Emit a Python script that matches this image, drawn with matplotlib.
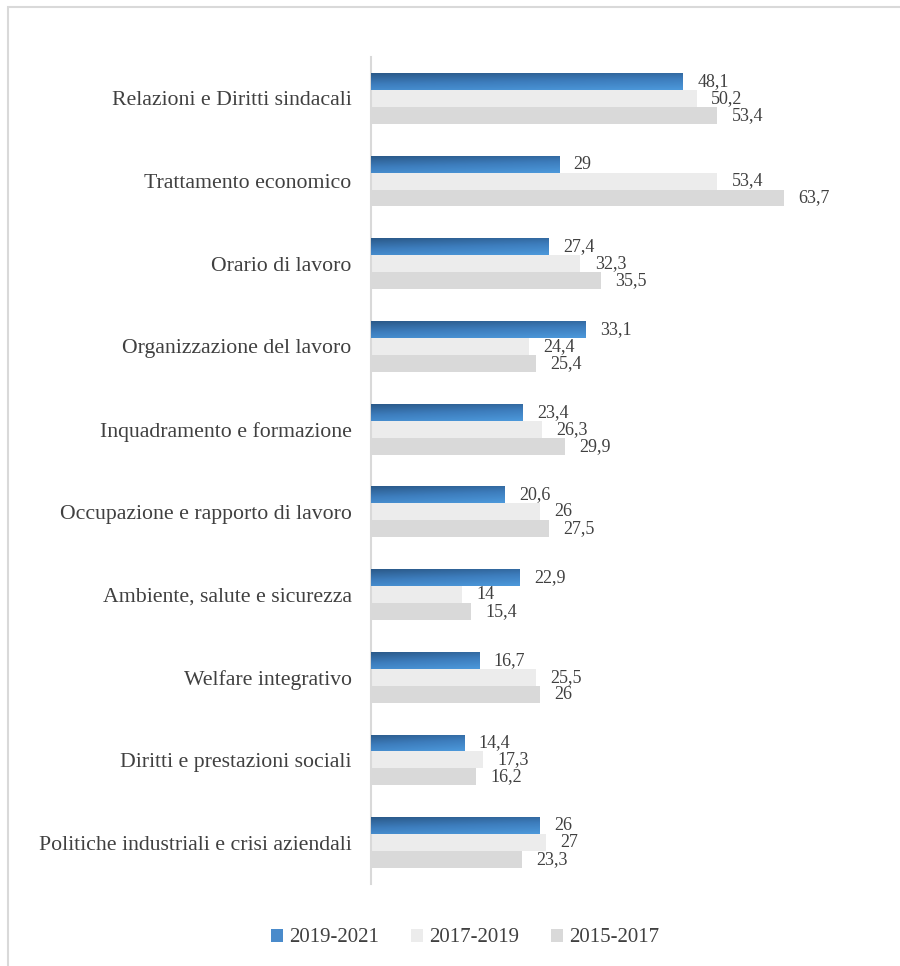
import numpy as np
import matplotlib.pyplot as plt
from matplotlib.patches import Rectangle
from matplotlib.colors import LinearSegmentedColormap

# Materie trattate nella contrattazione (%)
categories = ['Relazioni e Diritti sindacali', 'Trattamento economico', 'Orario di lavoro',
              'Organizzazione del lavoro', 'Inquadramento e formazione',
              'Occupazione e rapporto di lavoro', 'Ambiente, salute e sicurezza',
              'Welfare integrativo', 'Diritti e prestazioni sociali',
              'Politiche industriali e crisi aziendali']
periods = ['2019-2021', '2017-2019', '2015-2017']
v_2019_2021 = [48.1, 29, 27.4, 33.1, 23.4, 20.6, 22.9, 16.7, 14.4, 26]
v_2017_2019 = [50.2, 53.4, 32.3, 24.4, 26.3, 26, 14, 25.5, 17.3, 27]
v_2015_2017 = [53.4, 63.7, 35.5, 25.4, 29.9, 27.5, 15.4, 26, 16.2, 23.3]

plt.rcParams['font.family'] = ['Liberation Serif', 'DejaVu Serif']

fig = plt.figure(figsize=(9, 9.66), dpi=100)
ax = fig.add_axes([371/900, 82/966, 454/900, (884-57)/966])

# bordo grigio chiaro del riquadro
fig.patches.append(Rectangle((8/900, -0.1), 1.2, 1.1 - 7/966, transform=fig.transFigure,
                             fill=False, edgecolor='#d9d9d9', linewidth=1.5))

y = np.arange(len(categories))
h = 0.205
series = [v_2019_2021, v_2017_2019, v_2015_2017]
colors = ['#3f7fbf', '#ececec', '#d9d9d9']
blue_grad = LinearSegmentedColormap.from_list('blu', ['#2b5a8a', '#3d7dbd', '#4c98da'])

for i, (vals, col) in enumerate(zip(series, colors)):
    pos = y + (i - 1) * h
    bars = ax.barh(pos, vals, height=h, color=col, label=periods[i], zorder=2)
    if i == 0:
        # sfumatura diagonale sulle barre blu
        for b in bars:
            x0, y0 = b.get_x(), b.get_y()
            w, hh = b.get_width(), b.get_height()
            gx, gy = np.meshgrid(np.linspace(0, 1, 64), np.linspace(0, 1, 16))
            grad = 0.75 * gy + 0.25 * gx
            im = ax.imshow(grad, cmap=blue_grad, extent=(x0, x0 + w, y0 + hh, y0),
                           aspect='auto', zorder=3, vmin=0, vmax=1, origin='upper')
            im.set_clip_path(b)
    for p, v in zip(pos, vals):
        ax.text(v + 2.2, p, f'{v:g}'.replace('.', ','), va='center', ha='left',
                fontsize=13, color='#404040', zorder=4)

ax.set_xlim(0, 70)
ax.set_ylim(len(categories) - 0.5, -0.5)
ax.set_yticks(y)
ax.set_yticklabels(categories, fontsize=15.7, color='#404040')
ax.tick_params(axis='y', length=0, pad=14)
ax.set_xticks([])
for s in ['top', 'right', 'bottom']:
    ax.spines[s].set_visible(False)
ax.spines['left'].set_color('#d9d9d9')
ax.spines['left'].set_linewidth(1.5)

leg = fig.legend(loc='center', bbox_to_anchor=(465/900, 1 - 938/966), ncol=3, frameon=False,
                 fontsize=15, handlelength=0.6, handleheight=0.6, handletextpad=0.3,
                 columnspacing=1.5)
for t in leg.get_texts():
    t.set_color('#404040')
leg.legend_handles[0].set_facecolor('#4a8bcb')

fig.savefig('out.png', dpi=100, facecolor='white')
